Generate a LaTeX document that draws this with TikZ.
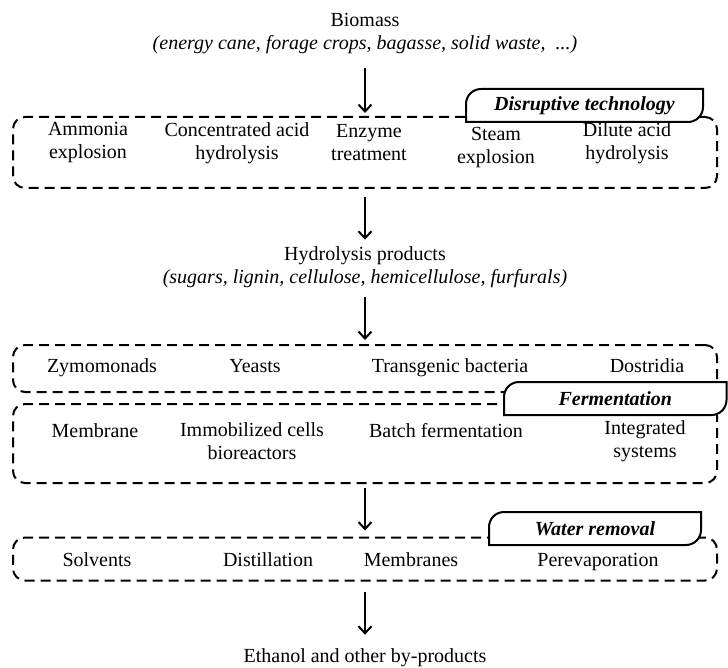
\documentclass[tikz,border=0pt]{standalone}
\usepackage{fontspec}
\setmainfont{Liberation Serif}
\usepackage{tikz}
\usetikzlibrary{arrows.meta}
\usetikzlibrary{calc}
\usetikzlibrary{positioning}

\tikzset{
  lbl/.style={inner sep=2pt, align=center, font=\fontsize{20}{23}\selectfont},
  one/.style={lbl, anchor=base},
  sub/.style={lbl, font=\fontsize{20}{23}\selectfont\itshape},
  grp/.style={draw, dashed, dash pattern=on 10pt off 6pt, line width=2pt, rounded corners=12pt, inner sep=0pt},
  tabline/.style={draw, fill=white, line width=2pt},
  tabtext/.style={inner sep=0pt, font=\fontsize{20}{23}\selectfont\bfseries\itshape},
  flow/.style={line width=2pt, -{Straight Barb[length=7pt,width=13pt]}}
}

\begin{document}
\begin{tikzpicture}[x=1pt, y=-1pt]
      \useasboundingbox (0,0) rectangle (728,668);

      \node[lbl] (bio) at (365,20) {Biomass};
      \node[sub] (biosub) at (365,45) {(energy cane, forage crops, bagasse, solid waste, \ ...)};

      \node[grp, minimum width=704pt, minimum height=71pt] (box1) at (365,152.5) {};
      \coordinate (t1a) at (466,89);
      \coordinate (t1b) at (703,122);
      \draw[tabline] (t1a |- t1b) -- ([yshift=-15pt]t1a) arc[start angle=180, end angle=90, radius=15pt]
            -- (t1b |- t1a) -- ([yshift=15pt]t1b) arc[start angle=0, end angle=-90, radius=15pt] -- cycle;
      \node[tabtext] (tab1) at ($(t1a)!0.5!(t1b)$) {Disruptive technology};

      \node[lbl] (ammonia) at (88,143) {Ammonia\\explosion};
      \node[lbl] (concacid) at (237,143) {Concentrated acid\\hydrolysis};
      \node[lbl] (enzyme) at (369,143) {Enzyme\\treatment};
      \node[lbl] (steam) at (496,148) {Steam\\explosion};
      \node[lbl] (dilacid) at (627,143) {Dilute acid\\hydrolysis};

      \node[lbl] (hyd) at (365,256) {Hydrolysis products};
      \node[sub] (hydsub) at (365,279) {(sugars, lignin, cellulose, hemicellulose, furfurals)};

      \node[grp, minimum width=704pt, minimum height=47pt] (box2) at (365,368.5) {};
      \node[one] (zymo) at (102,372) {Zymomonads};
      \node[one] (yeasts) at (255,372) {Yeasts};
      \node[one] (transg) at (450,372) {Transgenic bacteria};
      \node[one] (dostr) at (647,372) {Dostridia};

      \node[grp, minimum width=704pt, minimum height=79pt] (box3) at (365,443.5) {};
      \coordinate (t2a) at (504,382);
      \coordinate (t2b) at (726.5,415);
      \draw[tabline] (t2a |- t2b) -- ([yshift=-15pt]t2a) arc[start angle=180, end angle=90, radius=15pt]
            -- (t2b |- t2a) -- ([yshift=15pt]t2b) arc[start angle=0, end angle=-90, radius=15pt] -- cycle;
      \node[tabtext] (tab2) at ($(t2a)!0.5!(t2b)$) {Fermentation};

      \node[one] (membrane) at (95,437) {Membrane};
      \node[lbl] (immob) at (252,441) {Immobilized cells\\bioreactors};
      \node[one] (batch) at (446,437) {Batch fermentation};
      \node[lbl] (integr) at (645,441) {Integrated\\systems};

      \node[grp, minimum width=704pt, minimum height=43pt] (box4) at (365,559) {};
      \coordinate (t3a) at (489,512);
      \coordinate (t3b) at (701,545);
      \draw[tabline] (t3a |- t3b) -- ([yshift=-15pt]t3a) arc[start angle=180, end angle=90, radius=15pt]
            -- (t3b |- t3a) -- ([yshift=15pt]t3b) arc[start angle=0, end angle=-90, radius=15pt] -- cycle;
      \node[tabtext] (tab3) at ($(t3a)!0.5!(t3b)$) {Water removal};

      \node[one] (solvents) at (97,566) {Solvents};
      \node[one] (distil) at (268,566) {Distillation};
      \node[one] (membranes) at (411,566) {Membranes};
      \node[one] (pervap) at (598,566) {Perevaporation};

      \node[lbl] (ethanol) at (365,658) {Ethanol and other by-products};

      \draw[flow, shorten <=12pt, shorten >=3pt] (biosub.south) -- (box1.north);
      \draw[flow, shorten <=8pt, shorten >=5pt] (box1.south) -- (hyd.north);
      \draw[flow, shorten <=7pt, shorten >=4pt] (hydsub.south) -- (box2.north);
      \draw[flow, shorten <=4pt, shorten >=6pt] (box3.south) -- (box4.north);
      \draw[flow, shorten <=10pt, shorten >=12pt] (box4.south) -- (ethanol.north);

    \end{tikzpicture}
\end{document}
